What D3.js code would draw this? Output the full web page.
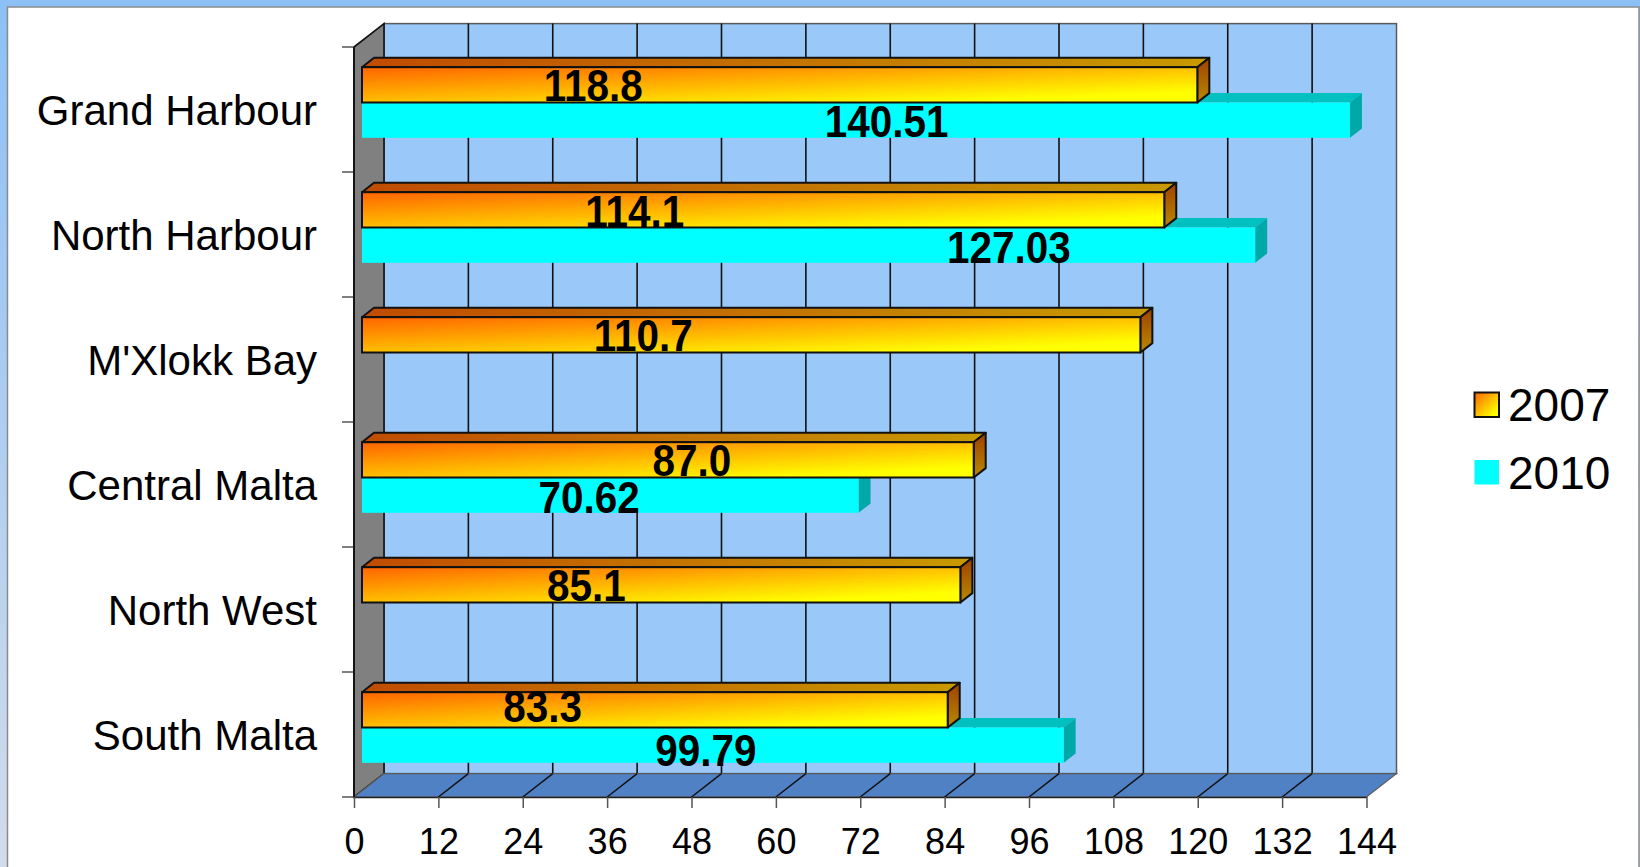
<!DOCTYPE html>
<html>
<head>
<meta charset="utf-8">
<script src="https://cdn.jsdelivr.net/npm/d3@7"></script>
<style>
  html, body { margin: 0; padding: 0; background: #fff; }
  svg { display: block; font-family: "Liberation Sans", Arial, sans-serif; }
</style>
</head>
<body>
<svg id="chart" width="1640" height="867"></svg>
<script>
// ---- data ----
const categories = ["Grand Harbour", "North Harbour", "M'Xlokk Bay", "Central Malta", "North West", "South Malta"];
const seriesNames = ["2007", "2010"];
const values2007 = [118.8, 114.1, 110.7, 87.0, 85.1, 83.3];
const values2010 = [140.51, 127.03, null, 70.62, null, 99.79];
const valueTicks = [0, 12, 24, 36, 48, 60, 72, 84, 96, 108, 120, 132, 144];
const labelFormats = [".1f", ".2f"];

// ---- layout ----
const W = 1640, H = 867;
const plot = { left: 354, right: 1366.5, top: 47, bottom: 797 };
const DEPTH = { dx: 30, dy: -23.4 };       // back wall offset
const BAR_PLANE = { dx: 8, dy: -7 };        // front face of the bars
const BAR_DEPTH = { dx: 12, dy: -9.4 };     // thickness of each bar
// where each value label sits along the value axis, and its vertical nudge in px
const labelAt = [
  [[32.9, 0], [74.6, 1]],
  [[38.8, 1], [92.0, 2]],
  [[40.0, 0], null],
  [[46.9, 0.5], [32.3, 2]],
  [[31.9, 0.5], null],
  [[25.7, -3.5], [48.9, 5]]
];

const svg = d3.select("#chart");
const defs = svg.append("defs");

// slide backdrop and white panel
const bg = defs.append("linearGradient").attr("id", "bgGrad").attr("x1", 0).attr("y1", 0).attr("x2", 0).attr("y2", 1);
bg.append("stop").attr("offset", 0).attr("stop-color", "#8cc0f6");
bg.append("stop").attr("offset", 1).attr("stop-color", "#d2dcea");
svg.append("rect").attr("width", W).attr("height", H).attr("fill", "url(#bgGrad)");
svg.append("rect").attr("x", 7.5).attr("y", 7).attr("width", W - 8.5).attr("height", H + 5)
  .attr("fill", "#ffffff").attr("stroke", "#8a8a8a").attr("stroke-width", 1.5);

// gradients for the 2007 bars
function lin(id, x2, y2, stops) {
  const g = defs.append("linearGradient").attr("id", id)
    .attr("x1", 0).attr("y1", 0).attr("x2", x2).attr("y2", y2);
  stops.forEach(s => g.append("stop").attr("offset", s[0]).attr("stop-color", s[1]));
}
lin("orangeFront", 1, 1, [[0, "#ff6400"], [0.85, "#ffff00"], [1, "#ffff00"]]);
lin("orangeTop", 1, 0, [[0, "#c04c00"], [1, "#c89a00"]]);
lin("orangeSide", 0, 1, [[0, "#a04000"], [1, "#b88a00"]]);

const faces = {
  "2007": { front: "url(#orangeFront)", top: "url(#orangeTop)", side: "url(#orangeSide)", stroke: "#111", sw: 2 },
  "2010": { front: "#00ffff", top: "#00c0c0", side: "#00a8a8", stroke: "none", sw: 0 }
};

// ---- scales ----
const x = d3.scaleLinear().domain([0, 144]).range([plot.left, plot.right]);
const y = d3.scaleBand().domain(categories).range([plot.top, plot.bottom]).padding(0);
const inner = d3.scaleBand().domain(seriesNames).range([0, y.bandwidth()]).paddingInner(0).paddingOuter(0.77);

// ---- back wall ----
const bx0 = x(0) + DEPTH.dx, bx1 = x(144) + DEPTH.dx;
const by0 = plot.top + DEPTH.dy, by1 = plot.bottom + DEPTH.dy;
svg.append("rect").attr("x", bx0).attr("y", by0).attr("width", bx1 - bx0).attr("height", by1 - by0)
  .attr("fill", "#9ac8f8").attr("stroke", "#5a5a5a").attr("stroke-width", 1.5);
svg.append("g").selectAll("line").data(valueTicks.slice(1, -1)).join("line")
  .attr("x1", d => x(d) + DEPTH.dx).attr("x2", d => x(d) + DEPTH.dx)
  .attr("y1", by0).attr("y2", by1)
  .attr("stroke", "#111").attr("stroke-width", 1.6);

// ---- side wall ----
svg.append("polygon")
  .attr("points", [[x(0), plot.top], [bx0, by0], [bx0, by1], [x(0), plot.bottom]].map(p => p.join(",")).join(" "))
  .attr("fill", "#808080").attr("stroke", "#111").attr("stroke-width", 1.6);

// ---- floor ----
svg.append("polygon")
  .attr("points", [[x(0), plot.bottom], [bx0, by1], [bx1, by1], [x(144), plot.bottom]].map(p => p.join(",")).join(" "))
  .attr("fill", "#4f81c4").attr("stroke", "#5a5a5a").attr("stroke-width", 1.2);
svg.append("g").selectAll("line").data(valueTicks.slice(1, -1)).join("line")
  .attr("x1", d => x(d)).attr("y1", plot.bottom)
  .attr("x2", d => x(d) + DEPTH.dx).attr("y2", by1)
  .attr("stroke", "#111").attr("stroke-width", 1.5);

// ---- bars ----
const rows = [];
categories.forEach((c, i) => {
  [values2007[i], values2010[i]].forEach((v, s) => {
    if (v == null) return;
    rows.push({ cat: c, ci: i, series: seriesNames[s], si: s, value: v });
  });
});
// draw from the bottom row upwards so upper bars cover the top faces below them
const drawOrder = rows.slice().sort((a, b) => (b.ci - a.ci) || (b.si - a.si));

const barG = svg.append("g");
drawOrder.forEach(d => {
  const f = faces[d.series];
  const x0 = x(0) + BAR_PLANE.dx, x1 = x(d.value) + BAR_PLANE.dx;
  const y0 = y(d.cat) + inner(d.series) + BAR_PLANE.dy, h = inner.bandwidth();
  const g = barG.append("g");
  const pts = a => a.map(p => p.join(",")).join(" ");
  g.append("polygon")
    .attr("points", pts([[x0, y0], [x0 + BAR_DEPTH.dx, y0 + BAR_DEPTH.dy], [x1 + BAR_DEPTH.dx, y0 + BAR_DEPTH.dy], [x1, y0]]))
    .attr("fill", f.top).attr("stroke", f.stroke).attr("stroke-width", f.sw).attr("stroke-linejoin", "round");
  g.append("polygon")
    .attr("points", pts([[x1, y0], [x1 + BAR_DEPTH.dx, y0 + BAR_DEPTH.dy], [x1 + BAR_DEPTH.dx, y0 + h + BAR_DEPTH.dy], [x1, y0 + h]]))
    .attr("fill", f.side).attr("stroke", f.stroke).attr("stroke-width", f.sw).attr("stroke-linejoin", "round");
  g.append("rect").attr("x", x0).attr("y", y0).attr("width", x1 - x0).attr("height", h)
    .attr("fill", f.front).attr("stroke", f.stroke).attr("stroke-width", f.sw);
});

// ---- value labels (slightly condensed bold face) ----
svg.append("g").selectAll("text").data(rows).join("text")
  .attr("transform", d => {
    const cx = x(labelAt[d.ci][d.si][0]) + BAR_PLANE.dx;
    const cy = y(d.cat) + inner(d.series) + BAR_PLANE.dy + inner.bandwidth() / 2 + labelAt[d.ci][d.si][1];
    return `translate(${cx},${cy}) scale(0.92,1)`;
  })
  .attr("dy", "0.36em")
  .attr("text-anchor", "middle")
  .attr("font-size", 44).attr("font-weight", "bold").attr("fill", "#000")
  .text(d => d3.format(labelFormats[d.si])(d.value));

// ---- axes ----
const xAxis = svg.append("g").attr("transform", `translate(0,${plot.bottom})`)
  .call(d3.axisBottom(x).tickValues(valueTicks).tickFormat(d3.format("d")).tickSize(11).tickSizeOuter(0).tickPadding(20));
xAxis.select(".domain").attr("stroke", "#222").attr("stroke-width", 1.6);
xAxis.selectAll(".tick line").attr("stroke", "#555").attr("stroke-width", 1.5);
xAxis.selectAll(".tick text").attr("font-size", 36).attr("font-family", "Liberation Sans, Arial, sans-serif").attr("fill", "#000");

const yAxis = svg.append("g").attr("transform", `translate(${plot.left},0)`)
  .call(d3.axisLeft(y).tickSize(0).tickPadding(37));
yAxis.select(".domain").remove();
yAxis.selectAll(".tick text").attr("font-size", 42).attr("dy", "0.37em")
  .attr("font-family", "Liberation Sans, Arial, sans-serif").attr("fill", "#000");

// category boundary ticks on the left
const bounds = categories.map(c => y(c)).concat([plot.bottom]);
svg.append("g").selectAll("line").data(bounds).join("line")
  .attr("x1", plot.left - 12).attr("x2", plot.left).attr("y1", d => d).attr("y2", d => d)
  .attr("stroke", "#555").attr("stroke-width", 1.5);
svg.append("line").attr("x1", plot.left).attr("x2", plot.left).attr("y1", plot.top).attr("y2", plot.bottom)
  .attr("stroke", "#111").attr("stroke-width", 1.8);

// ---- legend ----
const legend = svg.append("g").attr("transform", "translate(1474,392)");
const li = legend.selectAll("g").data(seriesNames).join("g")
  .attr("transform", (d, i) => `translate(0,${i * 68})`);
li.append("rect").attr("x", 0.5).attr("y", (d, i) => i ? 0 : 0.5).attr("width", 24.5).attr("height", 24.5)
  .attr("fill", d => faces[d].front).attr("stroke", d => d === "2007" ? "#111" : "none").attr("stroke-width", 2);
li.append("text").attr("x", 34).attr("y", 12.5).attr("dy", "0.36em")
  .attr("font-size", 46).attr("fill", "#000").text(d => d);
</script>
</body>
</html>
